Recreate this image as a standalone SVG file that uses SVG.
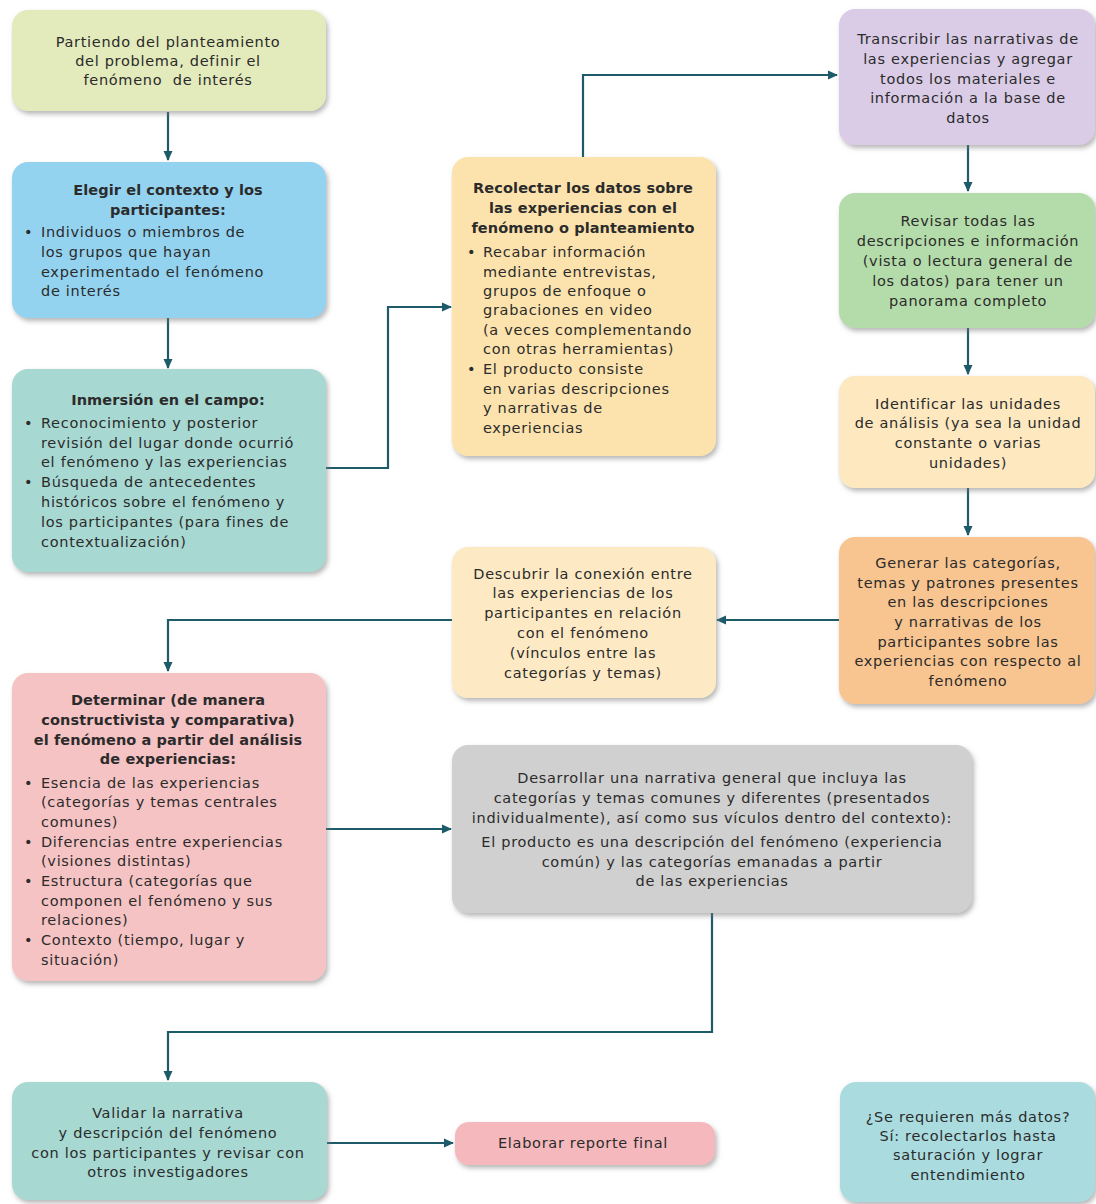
<svg xmlns="http://www.w3.org/2000/svg" width="1096" height="1204" viewBox="0 0 1096 1204">
<style>
.box{stroke:none}
.t{font-family:"DejaVu Sans","Open Sans",sans-serif;font-size:14.5px;letter-spacing:0.7px;fill:#2b2b2b;text-anchor:middle}
.l{text-anchor:start}
.b{font-weight:bold;letter-spacing:0.1px}
.c{fill:none;stroke:#1e5b6a;stroke-width:2.2}
</style>
<defs>
<filter id="sh" x="-10%" y="-10%" width="125%" height="130%">
<feDropShadow dx="2" dy="3" stdDeviation="2.5" flood-color="#7a7a7a" flood-opacity="0.55"/>
</filter>
<marker id="ah" viewBox="0 0 10 10" refX="9" refY="5" markerWidth="10" markerHeight="10" markerUnits="userSpaceOnUse" orient="auto">
<path d="M0,0.5 L10,5 L0,9.5 Z" fill="#1e5b6a"/>
</marker>
</defs>
<rect width="1096" height="1204" fill="#ffffff"/>

<g id="connectors">
<path class="c" d="M168,112 V160" marker-end="url(#ah)"/>
<path class="c" d="M168,318 V368" marker-end="url(#ah)"/>
<path class="c" d="M325,468 H388 V307 H451" marker-end="url(#ah)"/>
<path class="c" d="M583,157 V75 H837" marker-end="url(#ah)"/>
<path class="c" d="M968,145 V191" marker-end="url(#ah)"/>
<path class="c" d="M968,328 V374" marker-end="url(#ah)"/>
<path class="c" d="M968,488 V535" marker-end="url(#ah)"/>
<path class="c" d="M840,620 H717" marker-end="url(#ah)"/>
<path class="c" d="M452,620 H168 V671" marker-end="url(#ah)"/>
<path class="c" d="M325,829 H451" marker-end="url(#ah)"/>
<path class="c" d="M712,913 V1032 H168 V1080" marker-end="url(#ah)"/>
<path class="c" d="M327,1143 H453" marker-end="url(#ah)"/>
</g>

<g id="n1">
<rect class="box" x="12" y="10" width="314" height="101" rx="16" fill="#e3eabb" filter="url(#sh)"/>
<text class="t" xml:space="preserve"><tspan x="168" y="47">Partiendo del planteamiento</tspan><tspan x="168" y="66">del problema, definir el</tspan><tspan x="168" y="85">fenómeno  de interés</tspan></text>
</g>

<g id="n2">
<rect class="box" x="12" y="162" width="314" height="156" rx="16" fill="#93d3f0" filter="url(#sh)"/>
<text class="t b"><tspan x="168" y="195">Elegir el contexto y los</tspan><tspan x="168" y="215">participantes:</tspan></text>
<text class="t l"><tspan x="24" y="237">•</tspan><tspan x="41" y="237">Individuos o miembros de</tspan><tspan x="41" y="257">los grupos que hayan</tspan><tspan x="41" y="277">experimentado el fenómeno</tspan><tspan x="41" y="296">de interés</tspan></text>
</g>

<g id="n3">
<rect class="box" x="12" y="369" width="314" height="203" rx="16" fill="#a8d8d2" filter="url(#sh)"/>
<text class="t b"><tspan x="168" y="405">Inmersión en el campo:</tspan></text>
<text class="t l"><tspan x="24" y="428">•</tspan><tspan x="41" y="428">Reconocimiento y posterior</tspan><tspan x="41" y="448">revisión del lugar donde ocurrió</tspan><tspan x="41" y="467">el fenómeno y las experiencias</tspan><tspan x="24" y="487">•</tspan><tspan x="41" y="487">Búsqueda de antecedentes</tspan><tspan x="41" y="507">históricos sobre el fenómeno y</tspan><tspan x="41" y="527">los participantes (para fines de</tspan><tspan x="41" y="547">contextualización)</tspan></text>
</g>

<g id="n4">
<rect class="box" x="452" y="157" width="264" height="299" rx="16" fill="#fce3ad" filter="url(#sh)"/>
<text class="t b"><tspan x="583" y="193">Recolectar los datos sobre</tspan><tspan x="583" y="213">las experiencias con el</tspan><tspan x="583" y="233">fenómeno o planteamiento</tspan></text>
<text class="t l"><tspan x="467" y="257">•</tspan><tspan x="483" y="257">Recabar información</tspan><tspan x="483" y="277">mediante entrevistas,</tspan><tspan x="483" y="296">grupos de enfoque o</tspan><tspan x="483" y="315">grabaciones en video</tspan><tspan x="483" y="335">(a veces complementando</tspan><tspan x="483" y="354">con otras herramientas)</tspan><tspan x="467" y="374">•</tspan><tspan x="483" y="374">El producto consiste</tspan><tspan x="483" y="394">en varias descripciones</tspan><tspan x="483" y="413">y narrativas de</tspan><tspan x="483" y="433">experiencias</tspan></text>
</g>

<g id="n5">
<rect class="box" x="839" y="9" width="256" height="136" rx="16" fill="#dacce6" filter="url(#sh)"/>
<text class="t"><tspan x="968" y="44">Transcribir las narrativas de</tspan><tspan x="968" y="64">las experiencias y agregar</tspan><tspan x="968" y="84">todos los materiales e</tspan><tspan x="968" y="103">información a la base de</tspan><tspan x="968" y="123">datos</tspan></text>
</g>

<g id="n6">
<rect class="box" x="839" y="193" width="256" height="135" rx="16" fill="#b4dcaa" filter="url(#sh)"/>
<text class="t"><tspan x="968" y="226">Revisar todas las</tspan><tspan x="968" y="246">descripciones e información</tspan><tspan x="968" y="266">(vista o lectura general de</tspan><tspan x="968" y="286">los datos) para tener un</tspan><tspan x="968" y="306">panorama completo</tspan></text>
</g>

<g id="n7">
<rect class="box" x="839" y="376" width="256" height="112" rx="16" fill="#fde8c0" filter="url(#sh)"/>
<text class="t"><tspan x="968" y="409">Identificar las unidades</tspan><tspan x="968" y="428">de análisis (ya sea la unidad</tspan><tspan x="968" y="448">constante o varias</tspan><tspan x="968" y="468">unidades)</tspan></text>
</g>

<g id="n8">
<rect class="box" x="839" y="537" width="256" height="167" rx="16" fill="#f8c591" filter="url(#sh)"/>
<text class="t"><tspan x="968" y="568">Generar las categorías,</tspan><tspan x="968" y="588">temas y patrones presentes</tspan><tspan x="968" y="607">en las descripciones</tspan><tspan x="968" y="627">y narrativas de los</tspan><tspan x="968" y="647">participantes sobre las</tspan><tspan x="968" y="666">experiencias con respecto al</tspan><tspan x="968" y="686">fenómeno</tspan></text>
</g>

<g id="n9">
<rect class="box" x="452" y="547" width="264" height="151" rx="16" fill="#fdeac4" filter="url(#sh)"/>
<text class="t"><tspan x="583" y="579">Descubrir la conexión entre</tspan><tspan x="583" y="598">las experiencias de los</tspan><tspan x="583" y="618">participantes en relación</tspan><tspan x="583" y="638">con el fenómeno</tspan><tspan x="583" y="658">(vínculos entre las</tspan><tspan x="583" y="678">categorías y temas)</tspan></text>
</g>

<g id="n10">
<rect class="box" x="12" y="673" width="314" height="308" rx="16" fill="#f6c3c4" filter="url(#sh)"/>
<text class="t b"><tspan x="168" y="705">Determinar (de manera</tspan><tspan x="168" y="725">constructivista y comparativa)</tspan><tspan x="168" y="745">el fenómeno a partir del análisis</tspan><tspan x="168" y="764">de experiencias:</tspan></text>
<text class="t l"><tspan x="24" y="788">•</tspan><tspan x="41" y="788">Esencia de las experiencias</tspan><tspan x="41" y="807">(categorías y temas centrales</tspan><tspan x="41" y="827">comunes)</tspan><tspan x="24" y="847">•</tspan><tspan x="41" y="847">Diferencias entre experiencias</tspan><tspan x="41" y="866">(visiones distintas)</tspan><tspan x="24" y="886">•</tspan><tspan x="41" y="886">Estructura (categorías que</tspan><tspan x="41" y="906">componen el fenómeno y sus</tspan><tspan x="41" y="925">relaciones)</tspan><tspan x="24" y="945">•</tspan><tspan x="41" y="945">Contexto (tiempo, lugar y</tspan><tspan x="41" y="965">situación)</tspan></text>
</g>

<g id="n11">
<rect class="box" x="452" y="745" width="520" height="168" rx="16" fill="#d0d0d0" filter="url(#sh)"/>
<text class="t"><tspan x="712" y="783">Desarrollar una narrativa general que incluya las</tspan><tspan x="712" y="803">categorías y temas comunes y diferentes (presentados</tspan><tspan x="712" y="823">individualmente), así como sus vículos dentro del contexto):</tspan><tspan x="712" y="847">El producto es una descripción del fenómeno (experiencia</tspan><tspan x="712" y="867">común) y las categorías emanadas a partir</tspan><tspan x="712" y="886">de las experiencias</tspan></text>
</g>

<g id="n12">
<rect class="box" x="12" y="1082" width="315" height="118" rx="16" fill="#a8d8d2" filter="url(#sh)"/>
<text class="t"><tspan x="168" y="1118">Validar la narrativa</tspan><tspan x="168" y="1138">y descripción del fenómeno</tspan><tspan x="168" y="1158">con los participantes y revisar con</tspan><tspan x="168" y="1177">otros investigadores</tspan></text>
</g>

<g id="n13">
<rect class="box" x="455" y="1122" width="260" height="43" rx="14" fill="#f5b9bd" filter="url(#sh)"/>
<text class="t"><tspan x="583" y="1148">Elaborar reporte final</tspan></text>
</g>

<g id="n14">
<rect class="box" x="840" y="1082" width="255" height="120" rx="16" fill="#aadbdf" filter="url(#sh)"/>
<text class="t"><tspan x="968" y="1122">¿Se requieren más datos?</tspan><tspan x="968" y="1141">Sí: recolectarlos hasta</tspan><tspan x="968" y="1160">saturación y lograr</tspan><tspan x="968" y="1180">entendimiento</tspan></text>
</g>
</svg>
